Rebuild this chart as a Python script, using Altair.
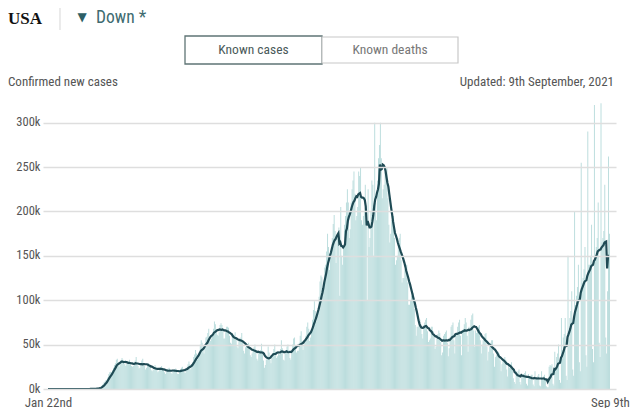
import altair as alt
import pandas as pd

# Daily confirmed new cases, USA, in thousands, starting Wed 22 Jan 2020 (one row = one week, Wed..Tue)
DAILY_K = [
    0, 0, 0, 0, 0, 0, 0,
    0, 0, 0, 0, 0, 0, 0,
    0, 0, 0, 0, 0, 0, 0,
    0, 0, 0, 0, 0, 0, 0,
    0, 0, 0, 0, 0, 0, 0,
    0, 0, 0, 0, 0, 0.01, 0.02,
    0.03, 0.05, 0.09, 0.07, 0.12, 0.15, 0.25,
    0.4, 0.5, 0.7, 0.8, 0.9, 1.2, 1.8,
    2.5, 4.5, 6, 7.5, 8.5, 10, 10.5,
    13, 17, 19, 19.5, 19, 21, 24,
    27, 29, 33, 34, 27, 25, 30,
    32, 35, 33, 30, 28, 26, 28,
    30, 31, 33, 29, 26, 25, 26,
    29, 32, 36, 27, 26, 23, 24,
    28, 32, 34, 29, 26, 22, 24,
    28, 29, 28, 26, 21, 20, 22,
    21, 27, 25, 24, 19, 20, 22,
    23, 26, 24, 21, 19, 17, 19,
    21, 23, 24, 22, 18, 17, 21,
    21, 22, 23, 21, 17, 17, 19,
    22, 24, 25, 22, 19, 18, 23,
    25, 28, 31, 28, 22, 24, 30,
    36, 39, 44, 40, 33, 35, 42,
    50, 55, 52, 45, 40, 47, 58,
    59, 63, 68, 59, 54, 57, 62,
    68, 76, 73, 64, 61, 60, 64,
    72, 74, 72, 66, 57, 57, 64,
    70, 70, 69, 60, 52, 51, 59,
    57, 61, 64, 58, 48, 46, 54,
    56, 58, 63, 53, 43, 40, 47,
    48, 50, 52, 48, 38, 36, 40,
    45, 47, 50, 44, 34, 32, 42,
    42, 44, 51, 43, 32, 24, 27,
    33, 37, 48, 41, 33, 29, 38,
    40, 45, 50, 42, 35, 37, 40,
    39, 45, 55, 46, 33, 32, 41,
    42, 48, 50, 44, 35, 33, 40,
    50, 57, 58, 49, 41, 43, 43,
    52, 60, 65, 54, 44, 49, 55,
    60, 70, 75, 68, 54, 58, 65,
    78, 89, 99, 88, 76, 82, 91,
    104, 121, 128, 126, 105, 119, 137,
    140, 155, 175, 160, 134, 150, 160,
    170, 186, 196, 178, 142, 170, 175,
    182, 105, 205, 150, 140, 160, 185,
    195, 210, 225, 210, 170, 180, 210,
    225, 235, 245, 220, 190, 195, 205,
    245, 240, 250, 190, 185, 195, 200,
    230, 190, 100, 225, 160, 170, 200,
    235, 230, 150, 300, 210, 190, 235,
    260, 275, 300, 260, 215, 225, 230,
    245, 245, 250, 215, 185, 165, 175,
    190, 195, 195, 170, 140, 145, 150,
    160, 170, 175, 145, 120, 125, 125,
    135, 140, 140, 120, 95, 95, 100,
    105, 110, 108, 90, 72, 60, 70,
    70, 72, 78, 73, 62, 57, 72,
    75, 78, 80, 65, 53, 55, 57,
    70, 70, 65, 60, 45, 48, 57,
    62, 66, 63, 53, 38, 41, 60,
    62, 64, 66, 52, 37, 46, 59,
    70, 72, 75, 55, 40, 60, 63,
    70, 75, 78, 60, 38, 66, 68,
    73, 80, 75, 60, 42, 70, 65,
    78, 83, 85, 66, 48, 66, 63,
    66, 70, 72, 55, 40, 50, 55,
    58, 62, 63, 48, 32, 42, 48,
    52, 55, 55, 40, 25, 36, 38,
    40, 42, 40, 32, 20, 28, 32,
    33, 36, 33, 22, 14, 26, 24,
    28, 30, 24, 12, 8, 6, 20,
    18, 20, 22, 8, 5, 17, 14,
    17, 18, 20, 6, 4, 17, 13,
    14, 16, 16, 5, 3, 20, 11,
    13, 15, 17, 4, 3, 20, 10,
    14, 16, 10, 3, 2, 2, 25,
    27, 26, 28, 6, 4, 42, 22,
    36, 40, 50, 10, 7, 80, 35,
    58, 62, 80, 15, 10, 150, 55,
    80, 88, 110, 22, 15, 200, 95,
    105, 115, 140, 30, 20, 255, 120,
    125, 135, 160, 38, 25, 290, 140,
    140, 150, 185, 45, 30, 320, 150,
    160, 170, 210, 52, 36, 322, 165,
    170, 178, 230, 58, 40, 110, 262,
    175,
]

Y_TICKS = [0, 50000, 100000, 150000, 200000, 250000, 300000]
Y_LABELS = ["0k", "50k", "100k", "150k", "200k", "250k", "300k"]
X_TICK_DAYS = [0, 596]
X_TICK_LABELS = ["Jan 22nd", "Sep 9th"]

COUNTRY = "USA"
TREND = "Down *"
BUTTONS = ["Known cases", "Known deaths"]
SUBTITLE = "Confirmed new cases"
UPDATED = "Updated: 9th September, 2021"

FONT = "Liberation Sans Narrow, Roboto Condensed, Roboto, sans-serif"
BAR_COLOR = "#b9dcdc"
LINE_COLOR = "#1f4b55"


def lookup_expr(values, labels):
    expr = "''"
    for v, l in reversed(list(zip(values, labels))):
        expr = f"datum.value == {v} ? '{l}' : ({expr})"
    return expr


df = pd.DataFrame({"day": list(range(len(DAILY_K))), "cases": [v * 1000 for v in DAILY_K]})

W, H = 573, 289
xs = alt.Scale(domain=[-5.3, 602.4], nice=False, zero=False)
ys = alt.Scale(domain=[0, 325600], nice=False)

bars = alt.Chart(df).transform_calculate(day2="datum.day + 1").mark_rect(
    color=BAR_COLOR
).encode(
    x=alt.X("day:Q", scale=xs, axis=alt.Axis(
        values=X_TICK_DAYS, labelExpr=lookup_expr(X_TICK_DAYS, X_TICK_LABELS),
        grid=False, domain=False, ticks=False, title=None,
        labelFont=FONT, labelFontSize=13, labelColor="#555555",
        labelPadding=7, labelFlush=False)),
    x2="day2:Q",
    y=alt.Y("cases:Q", scale=ys, axis=alt.Axis(
        values=Y_TICKS, labelExpr=lookup_expr(Y_TICKS, Y_LABELS),
        grid=True, gridColor="#dedede", gridWidth=1.5, domain=False,
        ticks=False, title=None, labelFont=FONT, labelFontSize=12.5,
        labelColor="#555555", labelPadding=3, labelOffset=-1, zindex=1)),
)

line = alt.Chart(df).transform_window(
    avg="mean(cases)", frame=[-6, 0], sort=[alt.SortField("day")]
).mark_line(color=LINE_COLOR, strokeWidth=2.2).encode(
    x=alt.X("day:Q", scale=xs),
    y=alt.Y("avg:Q", scale=ys),
)


def text_layer(txt, x, y, align="left", baseline="middle", **kw):
    return alt.Chart(pd.DataFrame({"t": [txt]})).mark_text(
        align=align, baseline=baseline, **kw
    ).encode(text="t:N", x=alt.value(x), y=alt.value(y))


def one():
    return alt.Chart(pd.DataFrame({"a": [0]}))


usa = text_layer(COUNTRY, -35, -76, baseline="alphabetic",
                 font="Liberation Serif, DejaVu Serif, serif", fontSize=17,
                 fontWeight="bold", color="#111111")
sep = one().mark_rule(color="#dddddd", strokeWidth=1.2).encode(
    x=alt.value(17), y=alt.value(-94), y2=alt.value(-70))
tri = text_layer("▼", 39, -83, align="center", font="DejaVu Sans",
                 fontSize=12, color="#2d5f66")
down = text_layer(TREND, 53, -77, baseline="alphabetic", font=FONT,
                  fontSize=17.5, color="#3e6b70")

btn1 = one().mark_rect(fill="white", stroke="#5f7475", strokeWidth=1.3).encode(
    x=alt.value(142), x2=alt.value(279), y=alt.value(-64), y2=alt.value(-36))
btn2 = one().mark_rect(fill="white", stroke="#c8c8c8", strokeWidth=1.2).encode(
    x=alt.value(279), x2=alt.value(415), y=alt.value(-63), y2=alt.value(-37))
btn1_t = text_layer(BUTTONS[0], 210.5, -50, align="center", font=FONT,
                    fontSize=13.5, color="#4a5a5a")
btn2_t = text_layer(BUTTONS[1], 347, -50, align="center", font=FONT,
                    fontSize=13.5, color="#777777")

sub = text_layer(SUBTITLE, -35, -18, font=FONT, fontSize=13, color="#555555")
upd = text_layer(UPDATED, 571, -18, align="right", font=FONT, fontSize=13,
                 color="#555555")

chart = alt.layer(
    bars, line, usa, sep, tri, down, btn1, btn2, btn1_t, btn2_t, sub, upd
).properties(
    width=W, height=H,
    autosize=alt.AutoSizeParams(type="none"),
    padding={"left": 35, "top": 92, "right": 16, "bottom": 20},
).configure_view(stroke=None)

chart.save("out.html", embed_options={"renderer": "svg", "actions": False})
